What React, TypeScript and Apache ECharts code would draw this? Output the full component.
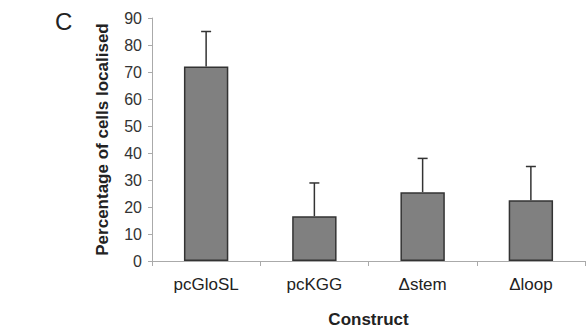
import React, { useEffect, useRef } from "react";
import * as echarts from "echarts";

const categories = ["pcGloSL", "pcKGG", "\u0394stem", "\u0394loop"];
const means = [72, 16.6, 25.5, 22.5];
const upperErrors = [85, 28.9, 38, 35];
const yTicks = { min: 0, max: 90, interval: 10 };

export default function App() {
  const ref = useRef<HTMLDivElement>(null);
  useEffect(() => {
    const chart = echarts.init(ref.current!, undefined, { renderer: "svg" });
    const font = "'Liberation Sans', Arial, sans-serif";
    chart.setOption({
      animation: false,
      backgroundColor: "#fff",
      grid: { left: 152, right: 2, top: 18, bottom: 66 },
      graphic: [
        {
          type: "text",
          left: 55,
          top: 9,
          style: { text: "C", fontSize: 24, fontFamily: font, fill: "#222" },
        },
      ],
      xAxis: {
        type: "category",
        data: categories,
        name: "Construct",
        nameLocation: "middle",
        nameGap: 50,
        nameTextStyle: { fontSize: 17, fontWeight: "bold", fontFamily: font, color: "#222" },
        axisLine: { lineStyle: { color: "#aaa", width: 1 } },
        axisTick: { show: true, length: 5, lineStyle: { color: "#aaa" } },
        axisLabel: { fontSize: 17, fontFamily: font, color: "#222", margin: 15 },
      },
      yAxis: {
        type: "value",
        min: yTicks.min,
        max: yTicks.max,
        interval: yTicks.interval,
        name: "Percentage of cells localised",
        nameLocation: "middle",
        nameGap: 41,
        nameTextStyle: { fontSize: 17, fontWeight: "bold", fontFamily: font, color: "#222" },
        axisLine: { show: true, lineStyle: { color: "#aaa", width: 1 } },
        axisTick: { show: true, length: 4, lineStyle: { color: "#aaa" } },
        axisLabel: { fontSize: 16, fontFamily: font, color: "#333", margin: 10 },
        splitLine: { show: false },
      },
      series: [
        {
          type: "bar",
          data: means,
          barWidth: "41%",
          itemStyle: { color: "#808080", borderColor: "#333", borderWidth: 1.5 },
          z: 2,
        },
        {
          type: "custom",
          data: categories.map((_, i) => [i, means[i], upperErrors[i]]),
          z: 3,
          renderItem: (params: any, api: any) => {
            const i = api.value(0);
            const base = api.coord([i, api.value(1)]);
            const top = api.coord([i, api.value(2)]);
            const half = 5;
            const style = { stroke: "#333", lineWidth: 1.5 };
            return {
              type: "group",
              children: [
                { type: "line", shape: { x1: base[0], y1: base[1], x2: top[0], y2: top[1] }, style },
                { type: "line", shape: { x1: top[0] - half, y1: top[1], x2: top[0] + half, y2: top[1] }, style },
              ],
            };
          },
        },
      ],
    });
    return () => chart.dispose();
  }, []);
  return <div ref={ref} style={{ position: "absolute", left: 0, top: 0, width: 587, height: 333 }} />;
}
